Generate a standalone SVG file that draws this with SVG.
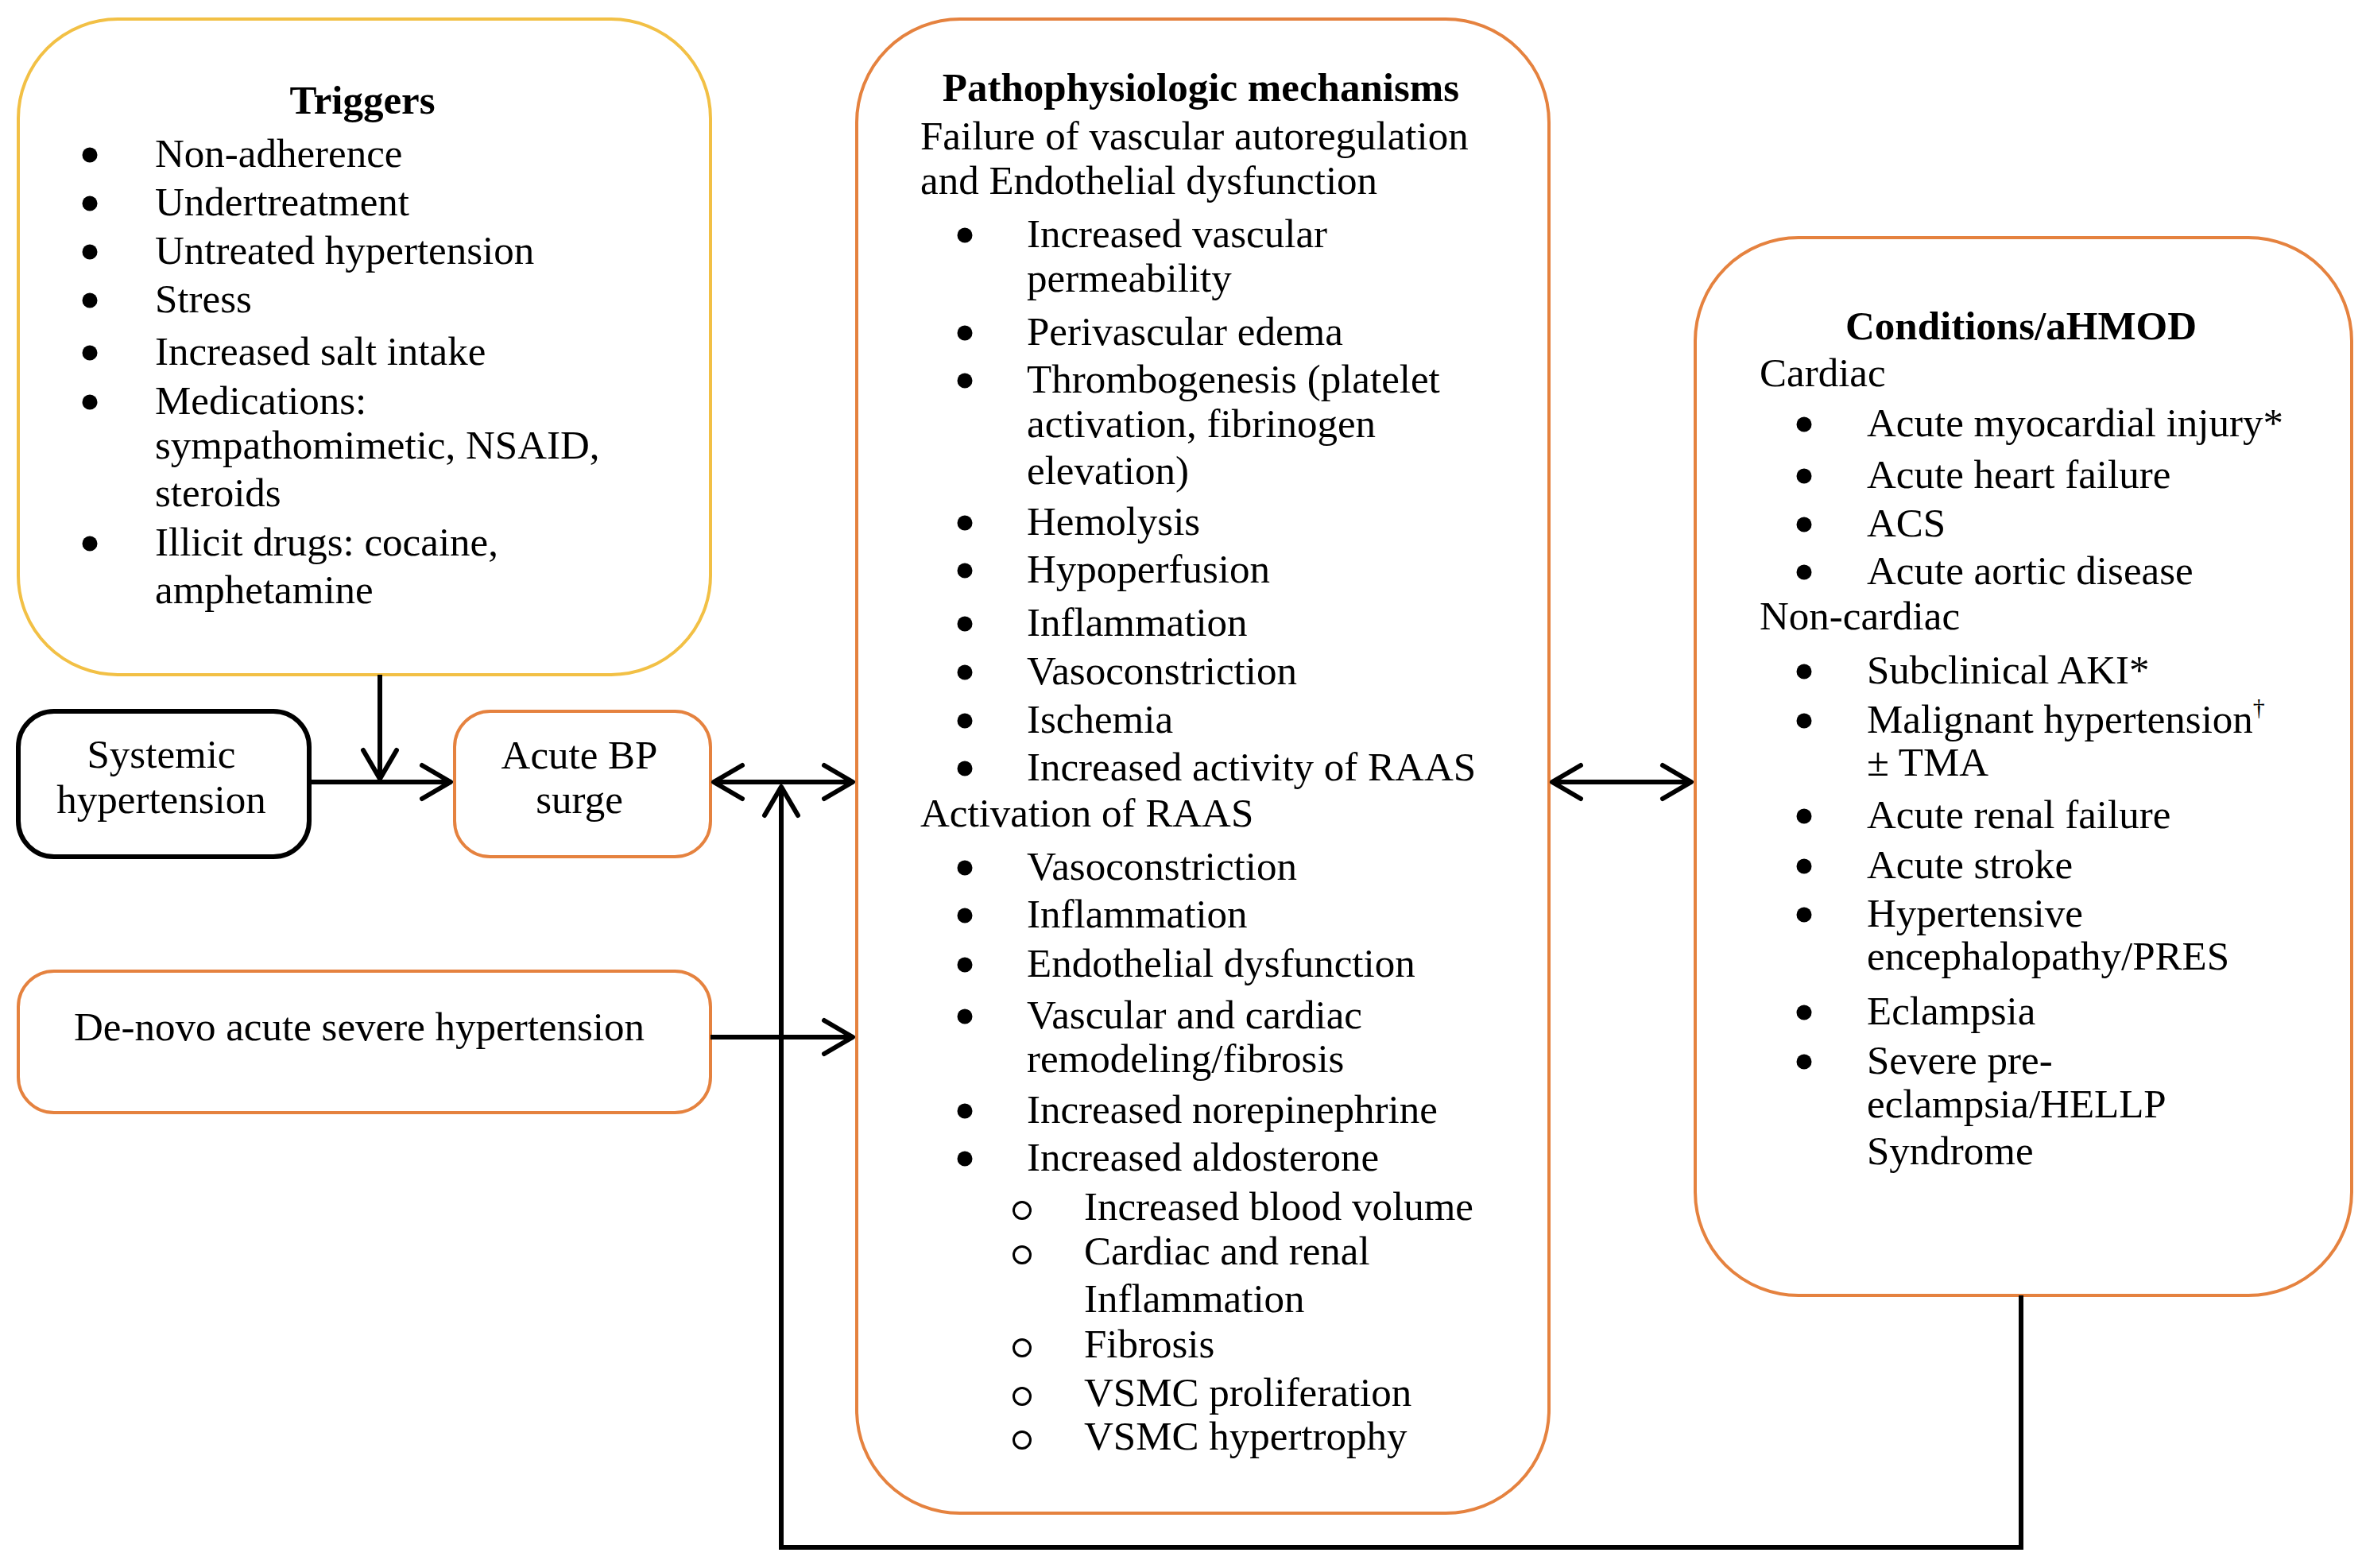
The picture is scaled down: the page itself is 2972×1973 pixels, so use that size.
<svg xmlns="http://www.w3.org/2000/svg" width="2972" height="1973" viewBox="0 0 2972 1973">
<style>
  text { font-family: "Liberation Serif", "Times New Roman", serif; font-size: 51px; fill: #000; }
  .b { font-weight: bold; }
  .mid { text-anchor: middle; }
  .box { fill: #fff; stroke-width: 4; }
  .yel { stroke: #F2C045; }
  .org { stroke: #E5823F; }
  .blk { stroke: #000; stroke-width: 6; }
  .dot { fill: #000; }
  .ring { fill: none; stroke: #000; stroke-width: 3; }
  .conn { fill: none; stroke: #000; stroke-width: 6; }
</style>
<defs>
  <marker id="arr" markerUnits="userSpaceOnUse" markerWidth="60" markerHeight="60" viewBox="-45 -30 55 60" refX="0" refY="0" orient="auto-start-reverse" overflow="visible">
    <path d="M-36,-21 L0,0 L-36,21" fill="none" stroke="#000" stroke-width="6" stroke-linejoin="round" stroke-linecap="round"/>
  </marker>
</defs>
<rect width="2972" height="1973" fill="#fff"/>

<g id="triggers">
  <rect class="box yel" x="23" y="24" width="871" height="825" rx="125" ry="125"/>
  <text class="b mid" x="456" y="143">Triggers</text>
  <circle class="dot" cx="113" cy="195" r="9.5"/><text x="195" y="210">Non-adherence</text>
  <circle class="dot" cx="113" cy="256" r="9.5"/><text x="195" y="271">Undertreatment</text>
  <circle class="dot" cx="113" cy="317" r="9.5"/><text x="195" y="332">Untreated hypertension</text>
  <circle class="dot" cx="113" cy="378" r="9.5"/><text x="195" y="393">Stress</text>
  <circle class="dot" cx="113" cy="444" r="9.5"/><text x="195" y="459">Increased salt intake</text>
  <circle class="dot" cx="113" cy="506" r="9.5"/><text x="195" y="521">Medications:</text>
  <text x="195" y="577">sympathomimetic, NSAID,</text>
  <text x="195" y="637">steroids</text>
  <circle class="dot" cx="113" cy="684" r="9.5"/><text x="195" y="699">Illicit drugs: cocaine,</text>
  <text x="195" y="759">amphetamine</text>
</g>

<g id="systemic">
  <rect class="box blk" x="23" y="895" width="366" height="183" rx="45" ry="45"/>
  <text class="mid" x="203" y="966">Systemic</text>
  <text class="mid" x="203" y="1023">hypertension</text>
</g>

<g id="acute-bp">
  <rect class="box org" x="572" y="895" width="322" height="183" rx="45" ry="45"/>
  <text class="mid" x="729" y="967">Acute BP</text>
  <text class="mid" x="729" y="1023">surge</text>
</g>

<g id="denovo">
  <rect class="box org" x="23" y="1222" width="871" height="178" rx="45" ry="45"/>
  <text class="mid" x="452" y="1309">De-novo acute severe hypertension</text>
</g>

<g id="mechanisms">
  <rect class="box org" x="1078" y="24" width="871" height="1880" rx="130" ry="130"/>
  <text class="b mid" x="1511" y="127">Pathophysiologic mechanisms</text>
  <text x="1158" y="188">Failure of vascular autoregulation</text>
  <text x="1158" y="244">and Endothelial dysfunction</text>
  <circle class="dot" cx="1214" cy="296" r="9.5"/><text x="1292" y="311">Increased vascular</text>
  <text x="1292" y="367">permeability</text>
  <circle class="dot" cx="1214" cy="419" r="9.5"/><text x="1292" y="434">Perivascular edema</text>
  <circle class="dot" cx="1214" cy="479" r="9.5"/><text x="1292" y="494">Thrombogenesis (platelet</text>
  <text x="1292" y="550">activation, fibrinogen</text>
  <text x="1292" y="609">elevation)</text>
  <circle class="dot" cx="1214" cy="658" r="9.5"/><text x="1292" y="673">Hemolysis</text>
  <circle class="dot" cx="1214" cy="718" r="9.5"/><text x="1292" y="733">Hypoperfusion</text>
  <circle class="dot" cx="1214" cy="785" r="9.5"/><text x="1292" y="800">Inflammation</text>
  <circle class="dot" cx="1214" cy="846" r="9.5"/><text x="1292" y="861">Vasoconstriction</text>
  <circle class="dot" cx="1214" cy="907" r="9.5"/><text x="1292" y="922">Ischemia</text>
  <circle class="dot" cx="1214" cy="967" r="9.5"/><text x="1292" y="982">Increased activity of RAAS</text>
  <text x="1158" y="1040">Activation of RAAS</text>
  <circle class="dot" cx="1214" cy="1092" r="9.5"/><text x="1292" y="1107">Vasoconstriction</text>
  <circle class="dot" cx="1214" cy="1152" r="9.5"/><text x="1292" y="1167">Inflammation</text>
  <circle class="dot" cx="1214" cy="1214" r="9.5"/><text x="1292" y="1229">Endothelial dysfunction</text>
  <circle class="dot" cx="1214" cy="1279" r="9.5"/><text x="1292" y="1294">Vascular and cardiac</text>
  <text x="1292" y="1349">remodeling/fibrosis</text>
  <circle class="dot" cx="1214" cy="1398" r="9.5"/><text x="1292" y="1413">Increased norepinephrine</text>
  <circle class="dot" cx="1214" cy="1458" r="9.5"/><text x="1292" y="1473">Increased aldosterone</text>
  <circle class="ring" cx="1286" cy="1523" r="10.5"/><text x="1364" y="1535">Increased blood volume</text>
  <circle class="ring" cx="1286" cy="1579" r="10.5"/><text x="1364" y="1591">Cardiac and renal</text>
  <text x="1364" y="1651">Inflammation</text>
  <circle class="ring" cx="1286" cy="1696" r="10.5"/><text x="1364" y="1708">Fibrosis</text>
  <circle class="ring" cx="1286" cy="1757" r="10.5"/><text x="1364" y="1769">VSMC proliferation</text>
  <circle class="ring" cx="1286" cy="1812" r="10.5"/><text x="1364" y="1824">VSMC hypertrophy</text>
</g>

<g id="conditions">
  <rect class="box org" x="2133" y="299" width="826" height="1331" rx="130" ry="130"/>
  <text class="b mid" x="2543" y="427">Conditions/aHMOD</text>
  <text x="2214" y="486">Cardiac</text>
  <circle class="dot" cx="2270" cy="534" r="9.5"/><text x="2349" y="549">Acute myocardial injury*</text>
  <circle class="dot" cx="2270" cy="599" r="9.5"/><text x="2349" y="614">Acute heart failure</text>
  <circle class="dot" cx="2270" cy="660" r="9.5"/><text x="2349" y="675">ACS</text>
  <circle class="dot" cx="2270" cy="720" r="9.5"/><text x="2349" y="735">Acute aortic disease</text>
  <text x="2214" y="792">Non-cardiac</text>
  <circle class="dot" cx="2270" cy="845" r="9.5"/><text x="2349" y="860">Subclinical AKI*</text>
  <circle class="dot" cx="2270" cy="907" r="9.5"/><text x="2349" y="922">Malignant hypertension<tspan font-size="30" dy="-22">†</tspan></text>
  <text x="2349" y="976">± TMA</text>
  <circle class="dot" cx="2270" cy="1027" r="9.5"/><text x="2349" y="1042">Acute renal failure</text>
  <circle class="dot" cx="2270" cy="1090" r="9.5"/><text x="2349" y="1105">Acute stroke</text>
  <circle class="dot" cx="2270" cy="1151" r="9.5"/><text x="2349" y="1166">Hypertensive</text>
  <text x="2349" y="1220">encephalopathy/PRES</text>
  <circle class="dot" cx="2270" cy="1274" r="9.5"/><text x="2349" y="1289">Eclampsia</text>
  <circle class="dot" cx="2270" cy="1336" r="9.5"/><text x="2349" y="1351">Severe pre-</text>
  <text x="2349" y="1406">eclampsia/HELLP</text>
  <text x="2349" y="1465">Syndrome</text>
</g>

<g id="connectors">
  <path class="conn" d="M389,984 L567,984" marker-end="url(#arr)"/>
  <path class="conn" d="M478,849 L478,980" marker-end="url(#arr)"/>
  <path class="conn" d="M898,984 L1073,984" marker-start="url(#arr)" marker-end="url(#arr)"/>
  <path class="conn" d="M894,1305 L1073,1305" marker-end="url(#arr)"/>
  <path class="conn" d="M1953,984 L2128,984" marker-start="url(#arr)" marker-end="url(#arr)"/>
  <path class="conn" d="M2543,1630 L2543,1947 L983,1947 L983,990" marker-end="url(#arr)"/>
</g>
</svg>
